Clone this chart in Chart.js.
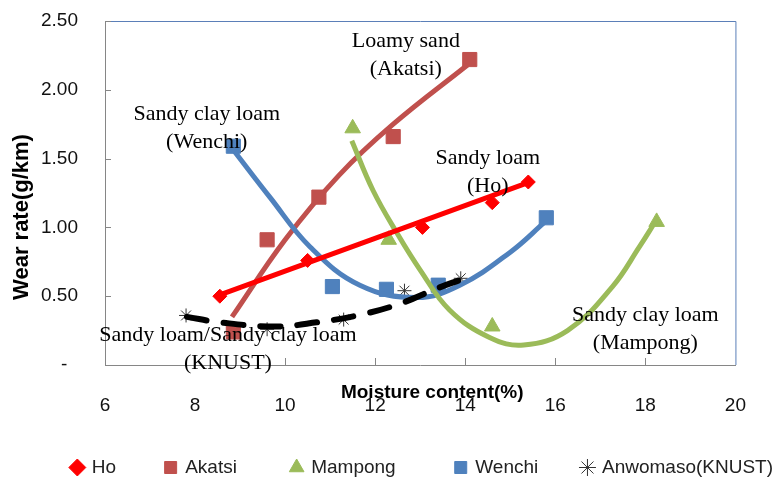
<!DOCTYPE html>
<html>
<head>
<meta charset="utf-8">
<script src="https://cdn.jsdelivr.net/npm/chart.js@4.4.1/dist/chart.umd.min.js"></script>
<style>
    body { margin: 0; background: #fff; }
    #wrap { width: 775px; height: 481px; }
</style>
</head>
<body>
<div id="wrap"><canvas id="wearChart"></canvas></div>
<script>
// Measured points (moisture content %, wear rate g/km)
const hoX = [8.55, 10.5, 13.05, 14.6, 15.4];
const hoY = [0.50, 0.76, 1.00, 1.18, 1.33];
const akatsiX = [8.85, 9.6, 10.75, 12.4, 14.1];
const akatsiY = [0.24, 0.91, 1.22, 1.66, 2.22];
const mampongX = [11.5, 12.3, 14.6, 18.25];
const mampongY = [1.72, 0.91, 0.28, 1.04];
const wenchiX = [8.85, 11.05, 12.25, 13.4, 15.8];
const wenchiY = [1.59, 0.57, 0.55, 0.58, 1.07];
const anwX = [7.8, 9.6, 11.3, 12.65, 13.9];
const anwY = [0.36, 0.26, 0.33, 0.54, 0.63];

// Trend curves
const hoTrendX = [8.55, 15.35];
const hoTrendY = [0.51, 1.32];
const akatsiTrendX = [8.82, 10.0, 11.2, 12.4, 14.05];
const akatsiTrendY = [0.35, 0.91, 1.38, 1.75, 2.18];
const mampongTrendX = [11.48, 11.95, 12.5, 13.0, 13.65, 14.54, 15.3, 16.27, 17.27, 17.87, 18.2];
const mampongTrendY = [1.63, 1.27, 0.95, 0.69, 0.40, 0.20, 0.145, 0.25, 0.57, 0.86, 1.03];
const wenchiTrendX = [8.88, 9.66, 10.55, 11.66, 12.92, 13.88, 15.0, 15.77];
const wenchiTrendY = [1.55, 1.22, 0.86, 0.58, 0.49, 0.58, 0.82, 1.04];
const anwTrendX = [7.82, 8.55, 9.8, 10.7, 11.6, 12.5, 13.4, 13.9];
const anwTrendY = [0.35, 0.31, 0.28, 0.31, 0.36, 0.44, 0.56, 0.62];

// Soil type notes on the plot
const noteLines = [
    ['Loamy sand', '(Akatsi)'],
    ['Sandy clay loam', '(Wenchi)'],
    ['Sandy loam', '(Ho)'],
    ['Sandy clay loam', '(Mampong)'],
    ['Sandy loam/Sandy clay loam', '(KNUST)']
];
const noteX = [12.68, 8.26, 14.5, 18.0, 8.73];
const noteY = [2.35, 1.82, 1.50, 0.36, 0.22];

const xTitle = 'Moisture content(%)';
const yTitle = 'Wear rate(g/km)';

// extra space after each legend entry (the legend is spread wide)
const legendSpaces = [9, 10, 11, 8, 0];

const pts = (xs, ys) => xs.map((x, i) => ({ x: x, y: ys[i] }));

function markerSet(label, xs, ys, style, radius, color) {
    return {
        label: label,
        data: pts(xs, ys),
        showLine: false,
        pointStyle: style,
        pointRadius: radius,
        pointHoverRadius: radius,
        backgroundColor: color,
        borderColor: color,
        borderWidth: 1,
        order: 2
    };
}

function trendSet(label, xs, ys, color, dash) {
    return {
        label: label + ' trend',
        data: pts(xs, ys),
        showLine: true,
        pointRadius: 0,
        borderColor: color,
        borderWidth: dash ? 6 : 5,
        borderDash: dash || [],
        borderCapStyle: dash ? 'round' : 'butt',
        tension: 0.4,
        fill: false,
        order: 1
    };
}

const anwMarkers = markerSet('Anwomaso(KNUST)', anwX, anwY, 'star', 7, '#333');
anwMarkers.backgroundColor = 'rgba(0,0,0,0)';

// Frame, inner ticks, titles and notes
const decor = {
    id: 'decor',
    beforeDatasetsDraw(chart) {
        const { ctx, chartArea: a, scales: { x, y } } = chart;
        ctx.save();
        ctx.lineWidth = 1;
        ctx.strokeStyle = '#5b7fb8';
        ctx.beginPath();
        ctx.moveTo(a.left, a.top + 0.5);
        ctx.lineTo(a.right + 0.5, a.top + 0.5);
        ctx.lineTo(a.right + 0.5, a.bottom);
        ctx.stroke();
        ctx.strokeStyle = '#868686';
        ctx.beginPath();
        x.ticks.forEach(t => {
            if (t.value > x.min && t.value < x.max) {
                const px = Math.round(x.getPixelForValue(t.value)) + 0.5;
                ctx.moveTo(px, a.bottom);
                ctx.lineTo(px, a.bottom - 7);
            }
        });
        y.ticks.forEach(t => {
            if (t.value > y.min) {
                const py = Math.round(y.getPixelForValue(t.value)) + 0.5;
                ctx.moveTo(a.left, py);
                ctx.lineTo(a.left + 6, py);
            }
        });
        ctx.stroke();
        ctx.restore();
    },
    afterDraw(chart) {
        const { ctx, chartArea: a, scales: { x, y } } = chart;
        ctx.save();
        ctx.fillStyle = '#000';
        ctx.textAlign = 'center';
        ctx.textBaseline = 'middle';
        ctx.font = '22px "Liberation Serif", "Times New Roman", serif';
        noteLines.forEach((lines, i) => {
            const px = x.getPixelForValue(noteX[i]);
            const py = y.getPixelForValue(noteY[i]);
            lines.forEach((s, j) => ctx.fillText(s, px, py + j * 28));
        });

        ctx.font = 'bold 19px "Liberation Sans", Arial, sans-serif';
        ctx.fillText(xTitle, (a.left + a.right) / 2 + 12, a.bottom + 28);

        ctx.font = 'bold 22px "Liberation Sans", Arial, sans-serif';
        ctx.translate(22, (a.top + a.bottom) / 2 + 24);
        ctx.rotate(-Math.PI / 2);
        ctx.fillText(yTitle, 0, 0);
        ctx.restore();
    }
};

const tickFont = { family: '"Liberation Sans", Arial, sans-serif', size: 19 };

new Chart(document.getElementById('wearChart').getContext('2d'), {
    type: 'scatter',
    data: {
        datasets: [
            markerSet('Ho', hoX, hoY, 'rectRot', 7, '#FF0000'),
            markerSet('Akatsi', akatsiX, akatsiY, 'rect', 10, '#C0504D'),
            markerSet('Mampong', mampongX, mampongY, 'triangle', 9, '#9BBB59'),
            markerSet('Wenchi', wenchiX, wenchiY, 'rect', 10, '#4F81BD'),
            anwMarkers,
            trendSet('Anwomaso', anwTrendX, anwTrendY, '#000', [20, 17]),
            trendSet('Ho', hoTrendX, hoTrendY, '#FF0000'),
            trendSet('Mampong', mampongTrendX, mampongTrendY, '#9BBB59'),
            trendSet('Wenchi', wenchiTrendX, wenchiTrendY, '#4F81BD'),
            trendSet('Akatsi', akatsiTrendX, akatsiTrendY, '#C0504D')
        ]
    },
    options: {
        responsive: true,
        maintainAspectRatio: false,
        animation: false,
        layout: { padding: { top: 21, right: 0, left: 0, bottom: -6 } },
        plugins: {
            tooltip: { enabled: false },
            legend: {
                position: 'bottom',
                align: 'end',
                labels: {
                    usePointStyle: true,
                    boxWidth: 10,
                    boxHeight: 12,
                    padding: 2,
                    color: '#222',
                    font: { family: '"Liberation Sans", Arial, sans-serif', size: 19 },
                    generateLabels: chart => Chart.defaults.plugins.legend.labels.generateLabels(chart)
                        .filter(item => !item.text.endsWith('trend'))
                        .map((item, i) => {
                            item.text = item.text + ' '.repeat(legendSpaces[i]);
                            return item;
                        })
                }
            }
        },
        scales: {
            x: {
                type: 'linear',
                min: 6,
                max: 20,
                ticks: { stepSize: 2, padding: 29, color: '#111', font: tickFont },
                grid: { display: false, drawTicks: false },
                border: { display: true, color: '#868686' },
                afterFit: s => { s.height = 91; }
            },
            y: {
                min: 0,
                max: 2.5,
                ticks: {
                    stepSize: 0.5,
                    padding: 0,
                    color: '#111',
                    font: tickFont,
                    callback: v => v === 0 ? '-  ' : v.toFixed(2)
                },
                grid: { display: false, drawTicks: true, tickLength: 27 },
                border: { display: true, color: '#868686' },
                afterFit: s => { s.width = 105; }
            },
            y2: {
                position: 'right',
                display: true,
                ticks: { display: false },
                grid: { display: false, drawTicks: false },
                border: { display: false },
                afterFit: s => { s.width = 39; }
            }
        }
    },
    plugins: [decor]
});
</script>
</body>
</html>
